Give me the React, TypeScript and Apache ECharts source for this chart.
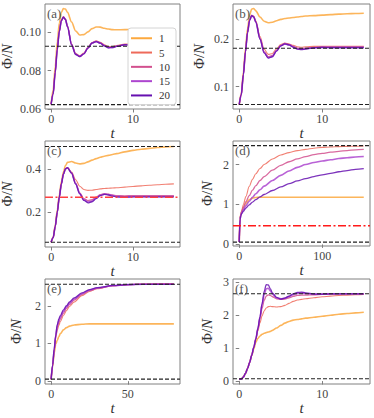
import React, { useEffect, useRef } from "react";
import * as echarts from "echarts";

// ---------- data ----------
const NAMES = ["1", "5", "10", "15", "20"];
const COLORS = ["#fca83e", "#ee6a5a", "#d2508e", "#ad46cf", "#6610b0"];
const WIDTHS = [1.6, 1.1, 1.3, 1.6, 1.3];

const T_SHORT = [0, 0.25, 0.5, 0.75, 1, 1.25, 1.5, 1.75, 2, 2.5, 3, 3.5, 4, 4.5, 5, 5.5, 6, 6.5, 7, 7.5, 8, 9, 10, 11, 12, 13, 14, 15];
const T_D = [0, 1, 2, 3, 5, 8, 12, 16, 20, 25, 30, 40, 50, 60, 70, 80, 90, 100, 110, 120, 130, 140, 150];
const T_E = [0, 1, 2, 3, 4, 5, 6, 8, 10, 12, 15, 20, 25, 30, 40, 50, 60, 70, 80];
const T_F = [0, 0.25, 0.5, 0.75, 1, 1.25, 1.5, 1.75, 2, 2.25, 2.5, 2.75, 3, 3.25, 3.5, 3.75, 4, 4.5, 5, 5.5, 6, 6.5, 7, 7.5, 8, 9, 10, 11, 12, 13, 14, 15];

// panel (a)
const A1 = [0.0625, 0.070, 0.082, 0.095, 0.105, 0.1105, 0.1125, 0.1122, 0.1105, 0.1055, 0.1008, 0.0987, 0.0989, 0.1003, 0.1020, 0.1029, 0.1028, 0.1022, 0.1018, 0.1015, 0.1014, 0.1015, 0.1017, 0.1017, 0.1017, 0.1017, 0.1017, 0.1017];
const A5 = [0.0625, 0.068, 0.0795, 0.0915, 0.101, 0.1065, 0.1082, 0.1071, 0.1034, 0.0940, 0.0890, 0.0879, 0.0893, 0.0922, 0.0948, 0.0956, 0.0949, 0.0936, 0.0927, 0.0927, 0.0932, 0.0939, 0.0939, 0.0938, 0.0937, 0.0937, 0.0937, 0.0937];
const A10 = [0.0625, 0.068, 0.0792, 0.0912, 0.1007, 0.1063, 0.1081, 0.1069, 0.1032, 0.0937, 0.0887, 0.0876, 0.0890, 0.0920, 0.0946, 0.0954, 0.0946, 0.0933, 0.0923, 0.0924, 0.0929, 0.0937, 0.0936, 0.0935, 0.0934, 0.0934, 0.0934, 0.0934];
const A15 = [0.0625, 0.068, 0.0791, 0.0911, 0.1006, 0.1062, 0.1080, 0.1068, 0.1031, 0.0936, 0.0886, 0.0875, 0.0889, 0.0919, 0.0945, 0.0953, 0.0945, 0.0931, 0.0921, 0.0922, 0.0928, 0.0936, 0.0935, 0.0934, 0.0933, 0.0933, 0.0933, 0.0933];
const A20 = [0.0625, 0.068, 0.079, 0.091, 0.1005, 0.1062, 0.1080, 0.1068, 0.1030, 0.0935, 0.0885, 0.0874, 0.0888, 0.0918, 0.0945, 0.0952, 0.0944, 0.0930, 0.0920, 0.0921, 0.0927, 0.0936, 0.0935, 0.0933, 0.0932, 0.0932, 0.0932, 0.0932];

// panel (b)
const B1 = [0.062, 0.085, 0.13, 0.18, 0.222, 0.251, 0.264, 0.265, 0.260, 0.247, 0.238, 0.235, 0.236, 0.239, 0.242, 0.244, 0.245, 0.246, 0.247, 0.248, 0.249, 0.250, 0.251, 0.252, 0.253, 0.254, 0.2545, 0.255];
const B5 = [0.062, 0.083, 0.126, 0.174, 0.215, 0.241, 0.251, 0.249, 0.239, 0.206, 0.179, 0.168, 0.170, 0.180, 0.189, 0.192, 0.190, 0.187, 0.184, 0.183, 0.184, 0.185, 0.185, 0.185, 0.185, 0.185, 0.185, 0.185];
const B10 = [0.062, 0.083, 0.125, 0.173, 0.214, 0.240, 0.250, 0.248, 0.237, 0.202, 0.174, 0.163, 0.166, 0.177, 0.187, 0.191, 0.189, 0.185, 0.181, 0.180, 0.181, 0.183, 0.184, 0.184, 0.184, 0.184, 0.184, 0.184];
const B15 = [0.062, 0.083, 0.125, 0.173, 0.214, 0.240, 0.250, 0.247, 0.236, 0.201, 0.172, 0.161, 0.164, 0.176, 0.186, 0.190, 0.188, 0.184, 0.180, 0.179, 0.180, 0.182, 0.183, 0.183, 0.183, 0.183, 0.183, 0.183];
const B20 = [0.062, 0.083, 0.125, 0.173, 0.214, 0.240, 0.250, 0.247, 0.236, 0.200, 0.171, 0.160, 0.163, 0.175, 0.186, 0.190, 0.188, 0.183, 0.179, 0.178, 0.179, 0.182, 0.1825, 0.182, 0.182, 0.182, 0.182, 0.182];

// panel (c)
const C1 = [0.063, 0.085, 0.14, 0.21, 0.28, 0.34, 0.385, 0.415, 0.43, 0.434, 0.427, 0.423, 0.425, 0.432, 0.440, 0.447, 0.453, 0.458, 0.462, 0.466, 0.470, 0.478, 0.485, 0.490, 0.494, 0.498, 0.501, 0.503];
const C5 = [0.063, 0.084, 0.136, 0.202, 0.272, 0.332, 0.377, 0.401, 0.405, 0.385, 0.35, 0.32, 0.305, 0.301, 0.302, 0.305, 0.308, 0.310, 0.311, 0.312, 0.313, 0.316, 0.319, 0.322, 0.325, 0.327, 0.329, 0.331];
const C10 = [0.063, 0.084, 0.135, 0.201, 0.271, 0.331, 0.376, 0.40, 0.405, 0.381, 0.333, 0.29, 0.263, 0.254, 0.258, 0.27, 0.281, 0.286, 0.284, 0.28, 0.277, 0.276, 0.277, 0.277, 0.277, 0.277, 0.277, 0.277];
const C15 = [0.063, 0.084, 0.135, 0.20, 0.27, 0.33, 0.375, 0.40, 0.405, 0.38, 0.331, 0.287, 0.258, 0.248, 0.252, 0.266, 0.279, 0.284, 0.282, 0.277, 0.273, 0.272, 0.273, 0.273, 0.273, 0.273, 0.273, 0.273];
const C20 = [0.063, 0.084, 0.135, 0.20, 0.27, 0.33, 0.375, 0.40, 0.405, 0.38, 0.33, 0.285, 0.255, 0.244, 0.249, 0.263, 0.277, 0.283, 0.280, 0.275, 0.271, 0.270, 0.271, 0.271, 0.271, 0.271, 0.271, 0.271];

// panel (d)
const D1 = [0.06, 0.65, 0.76, 0.82, 0.92, 1.03, 1.12, 1.16, 1.175, 1.18, 1.18, 1.18, 1.18, 1.18, 1.18, 1.18, 1.18, 1.18, 1.18, 1.18, 1.18, 1.18, 1.18];
const D5 = [0.06, 0.65, 0.77, 0.85, 1.0, 1.2, 1.45, 1.63, 1.77, 1.9, 2.0, 2.14, 2.24, 2.3, 2.35, 2.38, 2.41, 2.43, 2.44, 2.45, 2.455, 2.46, 2.465];
const D10 = [0.06, 0.64, 0.75, 0.82, 0.93, 1.07, 1.22, 1.36, 1.47, 1.6, 1.7, 1.86, 1.98, 2.07, 2.14, 2.2, 2.25, 2.28, 2.31, 2.33, 2.35, 2.37, 2.38];
const D15 = [0.06, 0.63, 0.74, 0.8, 0.87, 0.97, 1.08, 1.18, 1.27, 1.37, 1.46, 1.6, 1.73, 1.84, 1.93, 2.0, 2.05, 2.09, 2.12, 2.15, 2.17, 2.19, 2.2];
const D20 = [0.06, 0.62, 0.72, 0.77, 0.83, 0.91, 0.99, 1.06, 1.12, 1.19, 1.25, 1.35, 1.44, 1.52, 1.59, 1.65, 1.7, 1.74, 1.78, 1.82, 1.85, 1.88, 1.9];

// panel (e)
const E1 = [0.05, 0.4, 0.75, 0.98, 1.08, 1.18, 1.26, 1.36, 1.42, 1.46, 1.49, 1.51, 1.52, 1.52, 1.52, 1.52, 1.52, 1.52, 1.52];
const E5 = [0.05, 0.4, 0.8, 1.15, 1.35, 1.48, 1.58, 1.74, 1.87, 1.98, 2.1, 2.27, 2.38, 2.45, 2.53, 2.56, 2.58, 2.59, 2.59];
const E10 = [0.05, 0.42, 0.82, 1.18, 1.42, 1.55, 1.65, 1.8, 1.93, 2.03, 2.15, 2.3, 2.4, 2.46, 2.53, 2.56, 2.57, 2.58, 2.58];
const E15 = [0.05, 0.43, 0.84, 1.2, 1.48, 1.6, 1.7, 1.85, 1.97, 2.07, 2.18, 2.32, 2.42, 2.47, 2.53, 2.56, 2.57, 2.57, 2.57];
const E20 = [0.05, 0.44, 0.86, 1.22, 1.5, 1.65, 1.74, 1.89, 2.0, 2.1, 2.21, 2.34, 2.43, 2.48, 2.54, 2.56, 2.57, 2.57, 2.57];

// panel (f)
const F1 = [0.05, 0.06, 0.12, 0.23, 0.38, 0.56, 0.77, 0.98, 1.18, 1.3, 1.37, 1.42, 1.45, 1.47, 1.49, 1.51, 1.54, 1.61, 1.69, 1.76, 1.81, 1.85, 1.87, 1.89, 1.91, 1.94, 1.97, 2.0, 2.03, 2.05, 2.07, 2.09];
const F5 = [0.05, 0.06, 0.12, 0.23, 0.38, 0.56, 0.78, 1.01, 1.27, 1.52, 1.77, 1.98, 2.13, 2.22, 2.26, 2.27, 2.26, 2.25, 2.26, 2.3, 2.36, 2.42, 2.46, 2.48, 2.5, 2.53, 2.56, 2.58, 2.6, 2.61, 2.62, 2.63];
const F10 = [0.05, 0.06, 0.12, 0.23, 0.38, 0.56, 0.78, 1.02, 1.28, 1.58, 1.9, 2.2, 2.45, 2.58, 2.62, 2.6, 2.56, 2.5, 2.48, 2.49, 2.53, 2.57, 2.6, 2.61, 2.61, 2.62, 2.63, 2.64, 2.65, 2.65, 2.65, 2.65];
const F15 = [0.05, 0.06, 0.12, 0.23, 0.38, 0.56, 0.78, 1.02, 1.28, 1.6, 1.94, 2.32, 2.62, 2.8, 2.82, 2.74, 2.64, 2.53, 2.5, 2.52, 2.57, 2.62, 2.66, 2.67, 2.66, 2.64, 2.64, 2.65, 2.65, 2.65, 2.65, 2.65];
const F20 = [0.05, 0.06, 0.12, 0.23, 0.38, 0.56, 0.78, 1.02, 1.28, 1.6, 1.95, 2.35, 2.72, 2.93, 2.92, 2.8, 2.68, 2.54, 2.49, 2.52, 2.58, 2.65, 2.69, 2.7, 2.68, 2.64, 2.64, 2.65, 2.65, 2.65, 2.65, 2.65];

const X_TICKS_SHORT = [0, 10];
const X_TICKS_D = [0, 100];
const X_TICKS_E = [0, 50];
const Y_TICKS_A = [0.06, 0.08, 0.1];
const Y_TICKS_B = [0.1, 0.2];
const Y_TICKS_C = [0.2, 0.4];
const Y_TICKS_DEF = [0, 1, 2];
const Y_TICKS_F = [0, 1, 2, 3];

const HL_A = [0.0928, 0.0623];
const HL_B = [0.181, 0.062];
const HL_C = [0.503, 0.063];
const HL_D = [2.475, 0.058];
const HL_E = [2.57, 0.053];
const HL_F = [2.65, 0.07];
const RED_C = [0.269];
const RED_D = [0.47];

const LETTERS = ["(a)", "(b)", "(c)", "(d)", "(e)", "(f)"];

// ---------- layout / config ----------
const PANELS = [
  { t: T_SHORT, ys: [A1, A5, A10, A15, A20], xr: [-0.75, 15.75], yr: [0.06, 0.1149], xt: X_TICKS_SHORT, yt: Y_TICKS_A, dig: 2, hl: HL_A, red: [], g: { left: 45, top: 4, width: 135, height: 105 }, nameGap: 31, redColor: "" },
  { t: T_SHORT, ys: [B1, B5, B10, B15, B20], xr: [-0.75, 15.75], yr: [0.0525, 0.2745], xt: X_TICKS_SHORT, yt: Y_TICKS_B, dig: 1, hl: HL_B, red: [], g: { left: 233, top: 4, width: 137, height: 105 }, nameGap: 27, redColor: "" },
  { t: T_SHORT, ys: [C1, C5, C10, C15, C20], xr: [-0.75, 15.75], yr: [0.041, 0.528], xt: X_TICKS_SHORT, yt: Y_TICKS_C, dig: 1, hl: HL_C, red: RED_C, g: { left: 45, top: 141, width: 135, height: 106 }, nameGap: 31, redColor: "#ff4040" },
  { t: T_D, ys: [D1, D5, D10, D15, D20], xr: [-7.5, 157.5], yr: [-0.04, 2.59], xt: X_TICKS_D, yt: Y_TICKS_DEF, dig: 0, hl: HL_D, red: RED_D, g: { left: 233, top: 141, width: 137, height: 105 }, nameGap: 19, redColor: "#ff1a1a" },
  { t: T_E, ys: [E1, E5, E10, E15, E20], xr: [-4, 84], yr: [-0.075, 2.71], xt: X_TICKS_E, yt: Y_TICKS_DEF, dig: 0, hl: HL_E, red: [], g: { left: 45, top: 279, width: 135, height: 105 }, nameGap: 22, redColor: "" },
  { t: T_F, ys: [F1, F5, F10, F15, F20], xr: [-0.75, 15.75], yr: [-0.09, 3.1], xt: X_TICKS_SHORT, yt: Y_TICKS_F, dig: 0, hl: HL_F, red: [], g: { left: 233, top: 279, width: 137, height: 105 }, nameGap: 19, redColor: "" },
];

const FONT = "Liberation Serif";
const AXIS_GRAY = "#808080";
const TEXT_GRAY = "#444";

function buildOption() {
  const grid: any[] = [];
  const xAxis: any[] = [];
  const yAxis: any[] = [];
  const series: any[] = [];
  const graphic: any[] = [];

  PANELS.forEach((p, pi) => {
    grid.push({
      ...p.g,
      show: true,
      borderColor: AXIS_GRAY,
      borderWidth: 1,
      backgroundColor: "transparent",
      containLabel: false,
      outerBoundsMode: "none",
    });
    xAxis.push({
      type: "value",
      gridIndex: pi,
      min: p.xr[0],
      max: p.xr[1],
      axisLine: { show: false },
      splitLine: { show: false },
      axisTick: { show: true, inside: false, length: 3.5, lineStyle: { color: AXIS_GRAY }, customValues: p.xt },
      axisLabel: { customValues: p.xt, fontSize: 12, color: TEXT_GRAY, fontFamily: FONT, margin: 4, formatter: (v: number) => String(v) },
      name: "t",
      nameLocation: "middle",
      nameGap: 13,
      nameTextStyle: { fontSize: 15, fontStyle: "italic", fontFamily: FONT, color: "#333", verticalAlign: "top" },
    });
    yAxis.push({
      type: "value",
      gridIndex: pi,
      min: p.yr[0],
      max: p.yr[1],
      axisLine: { show: false },
      splitLine: { show: false },
      axisTick: { show: true, inside: false, length: 3.5, lineStyle: { color: AXIS_GRAY }, customValues: p.yt },
      axisLabel: { customValues: p.yt, fontSize: 12, color: TEXT_GRAY, fontFamily: FONT, margin: 4, formatter: (v: number) => v.toFixed(p.dig) },
      name: "{u|Φ/}{i|N}",
      nameLocation: "middle",
      nameRotate: 90,
      nameGap: p.nameGap,
      nameTextStyle: {
        color: "#333",
        fontFamily: FONT,
        fontSize: 15,
        rich: {
          u: { fontSize: 15, fontFamily: FONT, color: "#333" },
          i: { fontSize: 15, fontFamily: FONT, fontStyle: "italic", color: "#333" },
        },
      },
    });
    p.ys.forEach((ys, si) => {
      series.push({
        type: "line",
        name: NAMES[si],
        xAxisIndex: pi,
        yAxisIndex: pi,
        data: p.t.map((t, i) => [t, ys[i]]),
        symbol: "none",
        showSymbol: false,
        smooth: 0.3,
        smoothMonotone: "x",
        clip: true,
        lineStyle: { color: COLORS[si], width: WIDTHS[si], opacity: 0.85 },
        itemStyle: { color: COLORS[si] },
        z: 2 + si,
      });
    });
    // horizontal reference lines, drawn through the axes' scales
    p.hl.forEach((v) => {
      series.push({
        type: "line",
        name: "ref",
        xAxisIndex: pi,
        yAxisIndex: pi,
        data: [[p.xr[0], v], [p.xr[1], v]],
        symbol: "none",
        silent: true,
        lineStyle: { color: "#222", width: 1.1, type: [4, 2] },
        itemStyle: { color: "#222" },
        z: 9,
      });
    });
    p.red.forEach((v) => {
      series.push({
        type: "line",
        name: "red",
        xAxisIndex: pi,
        yAxisIndex: pi,
        data: [[p.xr[0], v], [p.xr[1], v]],
        symbol: "none",
        silent: true,
        lineStyle: { color: p.redColor, width: 1.5, type: [8, 2.5, 2, 2.5], opacity: 1 },
        itemStyle: { color: p.redColor },
        z: 9,
      });
    });
    graphic.push({
      type: "text",
      left: p.g.left + 2,
      top: p.g.top + 3,
      style: { text: LETTERS[pi], fontSize: 13, fontFamily: FONT, fill: "#555" },
      z: 10,
    });
  });

  return {
    animation: false,
    backgroundColor: "#fff",
    grid,
    xAxis,
    yAxis,
    series,
    graphic,
    legend: {
      data: NAMES,
      left: 128,
      top: 28,
      orient: "vertical",
      icon: "rect",
      itemWidth: 21,
      itemHeight: 2,
      itemGap: 1.8,
      padding: [4, 6, 3, 3],
      backgroundColor: "#fff",
      borderColor: "#d4d4d4",
      borderWidth: 1,
      borderRadius: 3,
      textStyle: { fontSize: 11, fontFamily: FONT, color: "#333", lineHeight: 12.5, padding: [0, 0, 0, 2] },
      selectedMode: false,
      z: 20,
    },
  };
}

export default function App() {
  const ref = useRef<HTMLDivElement>(null);
  useEffect(() => {
    if (!ref.current) return;
    const chart = echarts.init(ref.current, undefined, { renderer: "svg" });
    chart.setOption(buildOption() as any);
    return () => chart.dispose();
  }, []);
  return <div ref={ref} style={{ position: "fixed", left: 0, top: 0, width: 374, height: 418 }} />;
}
